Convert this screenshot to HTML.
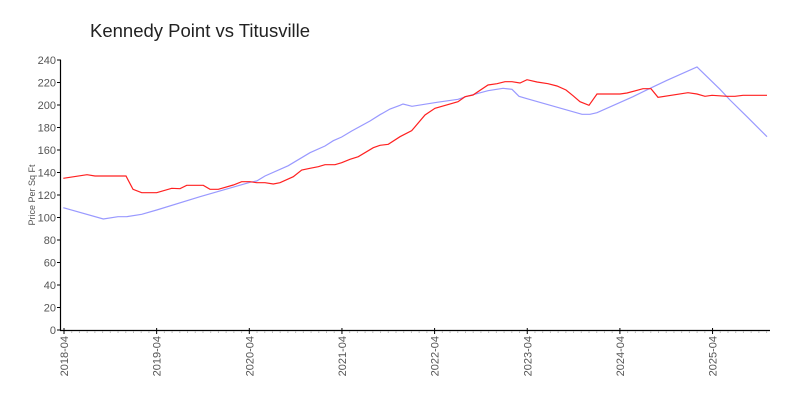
<!DOCTYPE html>
<html><head><meta charset="utf-8"><style>
body{margin:0;background:#fff;}
svg{display:block;font-family:"Liberation Sans",sans-serif;}
</style></head><body>
<svg width="800" height="400" viewBox="0 0 800 400">
<text x="90" y="37" font-size="18.5" fill="#222">Kennedy Point vs Titusville</text>
<text transform="translate(35,195) rotate(-90)" text-anchor="middle" font-size="9" fill="#555">Price Per Sq Ft</text>
<g stroke="#000" stroke-width="1.2" fill="none">
<line x1="60.5" y1="60" x2="60.5" y2="330.5"/>
<line x1="60" y1="330.5" x2="770" y2="330.5"/>
</g>
<g font-size="11" fill="#555" text-anchor="end" id="yl"></g>
<g id="yt" stroke="#000"></g>
<g id="xt"></g>
<g font-size="11" fill="#555" id="xl"></g>
<polyline fill="none" stroke="#9999ff" stroke-width="1.2" points="63.3,207.7 103.3,219 118,216.7 126.7,216.7 141.7,214.3 156.7,210 200,196.7 250,182.3 256.7,181 265,176 288.3,165.7 310,152.7 325,146 333.3,140.7 341.7,137 351.7,131 370,121 380,114.7 390,109 400,105.3 403,104 412,106.3 437,102.3 458,99.3 467,96.3 488,90.7 503,88.3 512,89.3 519,96.3 527,98.7 582,114.3 590,114.3 597,112.7 633,96.7 648,89.3 667,80.3 697,67 720,89.3 730,100 748,117.7 767,136.7"/>
<polyline fill="none" stroke="#ff2020" stroke-width="1.2" points="63.3,178.3 87,174.7 95,176 126,176 133,189.3 141.7,192.7 156.7,192.7 171.7,188.3 180,188.7 186.7,185.3 203.3,185.3 210,189.3 218.3,189.3 233.3,185 241.7,181.7 250,181.7 256.7,182.7 265,182.7 273.3,184 280,182.7 293.3,176.7 301.7,170 310,168.3 318.3,166.7 325,164.7 335,164.7 341.7,162.7 350,159.3 358.3,156.7 373.3,147.7 380,145.3 388.3,144.3 400,136.7 411.7,130.7 425,115 435,108.3 458,101.7 465,96.7 473,95 488,85 497,83.7 505,81.7 512,81.7 520,83 527,79.7 537,82 548,83.7 557,86 566,90 573,95.7 580,101.7 589,105.3 597,94 620,94 627,93 643,88.7 651,88.7 658,97.3 688,92.7 697,94 705,96.3 712,95.3 727,96.3 735,96.3 743,95.3 767,95.3"/>
</svg>
<script>
var ns="http://www.w3.org/2000/svg";
function el(p,t,a,txt){var e=document.createElementNS(ns,t);for(var k in a)e.setAttribute(k,a[k]);if(txt!==undefined)e.textContent=txt;document.getElementById(p).appendChild(e);}
for(var v=0;v<=240;v+=20){var y=330-v*1.125;el("yt","line",{x1:57,x2:61,y1:y,y2:y});el("yl","text",{x:56,y:y+4},String(v));}
var yrs=["2018-04","2019-04","2020-04","2021-04","2022-04","2023-04","2024-04","2025-04"];
for(var m=0;m<=92;m++){var x=64+m*92.65/12;if(x>770)break;var maj=m%12==0;el("xt","line",{x1:x,x2:x,y1:maj?328:331,y2:maj?334:333,stroke:maj?"#000":"#bbb","stroke-width":1});}
for(var i=0;i<yrs.length;i++){var x=64+i*92.65;el("xl","text",{transform:"translate("+(x+4)+",336) rotate(-90)","text-anchor":"end"},yrs[i]);}
</script>
</body></html>
